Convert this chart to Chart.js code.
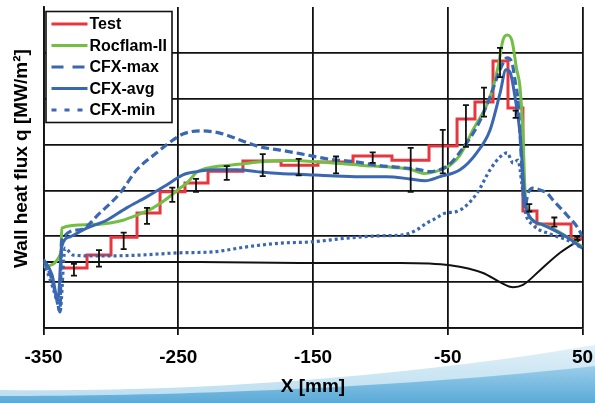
<!DOCTYPE html>
<html>
<head>
<meta charset="utf-8">
<script src="https://cdn.jsdelivr.net/npm/chart.js@4.4.1/dist/chart.umd.min.js"></script>
<style>
html,body{margin:0;padding:0;background:#fff;}
#wrap{width:595px;height:403px;position:relative;}
canvas{display:block;}
</style>
</head>
<body>
<div id="wrap"><canvas id="c" width="595" height="403"></canvas></div>
<script>
// ---- tick labels / grid ----
const xTicks = [-350, -250, -150, -50, 50];
const yGrid = [0, 1, 2, 3, 4, 5, 6, 7];

// ---- Test (measured, stepped: segment start x, value) ----
const testX = [-336.3, -317.7, -299.9, -280.6, -263.5, -245.0, -227.9, -202.0, -173.7, -146.3, -120.3, -91.4, -63.9, -43.1, -29.8, -16.4, -5.3, 5.8, 16.2, 41.5, 50];
const testY = [1.31, 1.59, 1.98, 2.51, 2.97, 3.16, 3.42, 3.64, 3.55, 3.62, 3.75, 3.66, 3.97, 4.56, 4.93, 5.82, 4.80, 2.55, 2.27, 1.94, 1.94];

// ---- Test error bars ----
const errX = [-327.4, -308.8, -290.5, -273.2, -254.4, -236.8, -214.0, -187.3, -160.6, -132.9, -105.7, -77.5, -53.7, -36.5, -23.1, -11.2, 0.4, 10.5, 29.1, 46.1];
const errLow = [1.14, 1.34, 1.72, 2.27, 2.75, 2.97, 3.23, 3.31, 3.33, 3.37, 3.60, 2.97, 3.37, 3.95, 4.61, 5.47, 4.58, 2.54, 2.21, 1.92];
const errHigh = [1.40, 1.70, 2.08, 2.62, 3.06, 3.25, 3.53, 3.79, 3.69, 3.74, 3.83, 3.93, 4.32, 4.86, 5.24, 6.11, 4.74, 2.70, 2.41, 1.99];

// ---- Rocflam-II ----
const rocX = [-350, -337.0, -336.5, -317.9, -300.6, -291.0, -280.8, -268.7, -259.8, -248.7, -243.5, -236.1, -224.2, -211.6, -196.8, -181.9, -167.1, -144.8, -115.1, -90.6, -78.0, -66.9, -58.2, -48.3, -40.9, -31.3, -18.6, -12.7, -9.0, -6.0, -2.5, 1.2, 3.6, 5.8, 7.3, 9.6, 13.3, 25.9, 38.5, 50];
const rocY = [1.34, 1.64, 2.18, 2.25, 2.29, 2.35, 2.46, 2.62, 2.79, 3.05, 3.16, 3.40, 3.51, 3.55, 3.60, 3.64, 3.65, 3.62, 3.55, 3.50, 3.46, 3.37, 3.42, 3.55, 3.77, 4.32, 5.04, 5.69, 6.28, 6.39, 6.28, 5.63, 5.26, 4.25, 3.01, 2.51, 2.35, 2.20, 1.99, 1.77];

// ---- CFX-max ----
const maxX = [-350, -343.7, -339.2, -337.8, -336.5, -322.9, -308.1, -293.2, -280.8, -266.0, -253.9, -246.5, -233.9, -219.0, -204.2, -189.3, -174.5, -157.4, -137.4, -120.3, -102.7, -85.4, -70.5, -63.2, -53.5, -48.3, -40.9, -28.3, -18.6, -11.2, -6.0, -2.3, -0.1, 2.1, 3.6, 5.8, 7.3, 9.6, 13.3, 18.5, 23.7, 28.1, 38.5, 46.6, 50];
const maxY = [1.48, 1.05, 0.50, 0.35, 1.92, 2.14, 2.51, 2.94, 3.45, 3.82, 4.10, 4.23, 4.30, 4.25, 4.10, 3.95, 3.88, 3.79, 3.68, 3.63, 3.55, 3.50, 3.45, 3.41, 3.48, 3.58, 3.84, 4.39, 5.04, 5.63, 5.89, 5.78, 5.41, 4.97, 4.25, 3.07, 2.65, 2.94, 3.05, 3.01, 2.94, 2.79, 2.46, 2.18, 1.99];

// ---- CFX-avg ----
const avgX = [-350, -343.7, -339.2, -336.5, -330.3, -317.9, -303.1, -288.3, -273.4, -258.6, -246.5, -236.3, -224.2, -206.6, -191.8, -174.5, -157.4, -137.4, -115.1, -95.3, -78.0, -66.9, -55.7, -40.9, -28.5, -18.6, -11.2, -6.8, -3.8, -0.1, 3.6, 7.3, 11.0, 20.7, 38.5, 50];
const avgY = [1.50, 1.16, 0.61, 1.77, 1.99, 2.18, 2.35, 2.62, 2.86, 3.12, 3.34, 3.41, 3.45, 3.45, 3.41, 3.37, 3.35, 3.32, 3.30, 3.30, 3.25, 3.21, 3.30, 3.45, 3.82, 4.32, 5.12, 5.63, 5.58, 5.04, 4.25, 2.79, 2.42, 2.25, 1.98, 1.74];

// ---- CFX-min ----
const minX = [-350, -343.7, -339.2, -337.8, -334.0, -328.1, -308.1, -278.4, -248.7, -224.2, -199.2, -174.5, -150.0, -125.0, -100.3, -83.2, -73.0, -65.6, -58.2, -53.5, -40.9, -28.3, -18.6, -11.2, -6.0, -1.5, 2.1, 5.1, 7.3, 13.3, 25.9, 38.5, 50];
const minY = [1.44, 0.94, 0.50, 0.35, 1.74, 1.59, 1.57, 1.59, 1.64, 1.66, 1.77, 1.85, 1.88, 1.96, 2.01, 2.03, 2.14, 2.29, 2.40, 2.49, 2.57, 2.94, 3.45, 3.73, 3.82, 3.60, 3.66, 3.12, 2.57, 2.25, 2.05, 1.92, 1.74];

// ---- black contour line (no legend entry) ----
const geoX = [-350, -233.9, -159.7, -85.5, -48.3, -23.8, -11.2, -1.5, 5.8, 18.5, 33.3, 50];
const geoY = [1.44, 1.44, 1.42, 1.42, 1.37, 1.20, 1.00, 0.89, 0.94, 1.26, 1.64, 1.96];

const FONT = "'Liberation Sans', Arial, sans-serif";
const RED = '#e8363f', GREEN = '#72bf44', BLUE = '#3a67b1';
const pts = (xs, ys) => xs.map((x, i) => ({ x: x, y: ys[i] }));

const bgPlugin = {
  id: 'bg',
  beforeDraw(chart) {
    const ctx = chart.ctx, W = chart.width, H = chart.height;
    ctx.save();
    ctx.fillStyle = '#fff';
    ctx.fillRect(0, 0, W, H);
    let g = ctx.createLinearGradient(0, 340, 0, H);
    g.addColorStop(0, '#e4f2f9');
    g.addColorStop(1, '#b9dcef');
    ctx.beginPath();
    ctx.moveTo(0, 390);
    ctx.bezierCurveTo(200, 393, 420, 375, 595, 345);
    ctx.lineTo(595, H); ctx.lineTo(0, H); ctx.closePath();
    ctx.fillStyle = g; ctx.fill();
    g = ctx.createLinearGradient(0, 360, 0, H);
    g.addColorStop(0, '#a6d3ec');
    g.addColorStop(1, '#5aaad8');
    ctx.beginPath();
    ctx.moveTo(0, 396);
    ctx.bezierCurveTo(150, 396, 380, 390, 595, 366);
    ctx.lineTo(595, H); ctx.lineTo(0, H); ctx.closePath();
    ctx.fillStyle = g; ctx.fill();
    ctx.restore();
  }
};

const errPlugin = {
  id: 'errbars',
  afterDatasetsDraw(chart) {
    const ctx = chart.ctx, xs = chart.scales.x, ys = chart.scales.y, a = chart.chartArea;
    ctx.save();
    ctx.beginPath();
    ctx.rect(a.left, a.top, a.right - a.left, a.bottom - a.top);
    ctx.clip();
    ctx.strokeStyle = '#111';
    ctx.lineWidth = 1.8;
    for (let i = 0; i < errX.length; i++) {
      const px = xs.getPixelForValue(errX[i]);
      const y1 = ys.getPixelForValue(errLow[i]);
      const y2 = ys.getPixelForValue(errHigh[i]);
      ctx.beginPath();
      ctx.moveTo(px, y1); ctx.lineTo(px, y2);
      ctx.moveTo(px - 3, y1); ctx.lineTo(px + 3, y1);
      ctx.moveTo(px - 3, y2); ctx.lineTo(px + 3, y2);
      ctx.stroke();
    }
    ctx.restore();
  }
};

const legendPlugin = {
  id: 'boxLegend',
  afterDraw(chart) {
    const ctx = chart.ctx, a = chart.chartArea;
    const items = chart.data.datasets.filter(d => d.label);
    const bx = a.left + 2.5, by = a.top + 4.5, bw = 126, bh = 111;
    ctx.save();
    ctx.fillStyle = '#fff';
    ctx.fillRect(bx, by, bw, bh);
    ctx.strokeStyle = '#111';
    ctx.lineWidth = 1.6;
    ctx.strokeRect(bx, by, bw, bh);
    ctx.font = "bold 16px " + FONT;
    ctx.textBaseline = 'middle';
    ctx.textAlign = 'left';
    items.forEach((d, i) => {
      const ry = by + 12.5 + i * 21.5;
      ctx.beginPath();
      ctx.setLineDash(d.legendDash || []);
      ctx.strokeStyle = d.borderColor;
      ctx.lineWidth = 3;
      ctx.moveTo(bx + 5.5, ry); ctx.lineTo(bx + 41.5, ry);
      ctx.stroke();
      ctx.setLineDash([]);
      ctx.fillStyle = '#000';
      ctx.fillText(d.label, bx + 43.5, ry + 1);
    });
    ctx.restore();
  }
};

const yTitlePlugin = {
  id: 'yTitle',
  afterDraw(chart) {
    const ctx = chart.ctx, a = chart.chartArea;
    ctx.save();
    ctx.translate(21.5, (a.top + a.bottom) / 2 - 9);
    ctx.rotate(-Math.PI / 2);
    ctx.font = "bold 19px " + FONT;
    ctx.fillStyle = '#000';
    ctx.textAlign = 'center';
    ctx.textBaseline = 'middle';
    ctx.fillText('Wall heat flux q [MW/m²]', 0, 0);
    ctx.restore();
  }
};

new Chart(document.getElementById('c'), {
  type: 'line',
  data: {
    datasets: [
      { label: 'Test', data: pts(testX, testY), borderColor: RED, borderWidth: 3, stepped: true, order: 5 },
      { label: 'Rocflam-II', data: pts(rocX, rocY), borderColor: GREEN, borderWidth: 3, cubicInterpolationMode: 'monotone', order: 4 },
      { label: 'CFX-max', data: pts(maxX, maxY), borderColor: BLUE, borderWidth: 3.2, borderDash: [8, 4], legendDash: [12, 9], cubicInterpolationMode: 'monotone', order: 3 },
      { label: 'CFX-avg', data: pts(avgX, avgY), borderColor: BLUE, borderWidth: 3, cubicInterpolationMode: 'monotone', order: 2 },
      { label: 'CFX-min', data: pts(minX, minY), borderColor: BLUE, borderWidth: 3.2, borderDash: [3, 3], legendDash: [5, 8], cubicInterpolationMode: 'monotone', order: 1 },
      { label: '', data: pts(geoX, geoY), borderColor: '#111', borderWidth: 2, cubicInterpolationMode: 'monotone', order: 6 }
    ]
  },
  options: {
    responsive: false,
    animation: false,
    devicePixelRatio: 1,
    layout: { padding: { left: 43.5, right: 12.5, top: 7, bottom: 0 } },
    plugins: { legend: { display: false }, tooltip: { enabled: false } },
    elements: { point: { radius: 0, hoverRadius: 0 }, line: { fill: false } },
    scales: {
      x: {
        type: 'linear', min: -350, max: 50,
        afterBuildTicks: s => { s.ticks = xTicks.map(v => ({ value: v })); },
        afterFit: s => { s.height = 75; s.paddingLeft = 0; s.paddingRight = 0; },
        grid: { color: '#111', lineWidth: 1.8, drawTicks: true, tickLength: 7, tickColor: '#111', tickWidth: 1.8 },
        border: { color: '#111', width: 1.8 },
        ticks: { color: '#000', font: { family: FONT, size: 19, weight: 'bold' }, padding: 11.6, maxRotation: 0, autoSkip: false },
        title: { display: true, text: 'X [mm]', color: '#000', font: { family: FONT, size: 19, weight: 'bold' }, padding: { top: 6.2, bottom: 4.6 } }
      },
      y: {
        type: 'linear', min: 0, max: 7,
        afterBuildTicks: s => { s.ticks = yGrid.map(v => ({ value: v })); },
        afterFit: s => { s.paddingTop = 0; s.paddingBottom = 0; },
        ticks: { display: false },
        grid: { drawTicks: false, lineWidth: 1.8, color: c => (c.tick && c.tick.value === 7) ? 'rgba(0,0,0,0)' : '#111' },
        border: { color: '#111', width: 1.8 }
      }
    }
  },
  plugins: [bgPlugin, errPlugin, legendPlugin, yTitlePlugin]
});
</script>
</body>
</html>
